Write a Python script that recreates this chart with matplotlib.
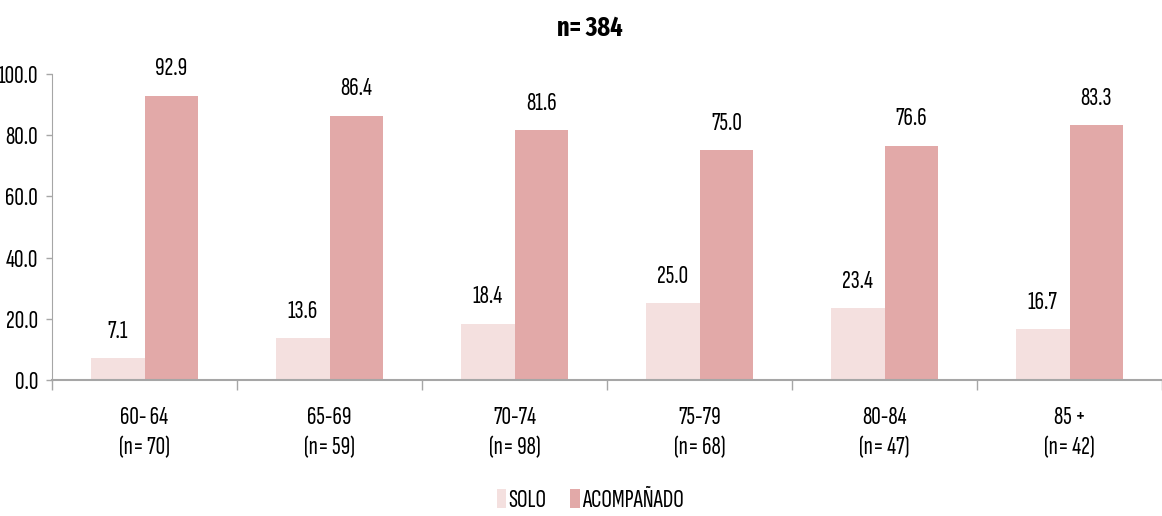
import matplotlib
matplotlib.use("Agg")
import matplotlib.pyplot as plt
import numpy as np

GRUPOS = ["60- 64\n(n= 70)", "65-69\n(n= 59)", "70-74\n(n= 98)",
          "75-79\n(n= 68)", "80-84\n(n= 47)", "85 +\n(n= 42)"]
SOLO = [7.1, 13.6, 18.4, 25.0, 23.4, 16.7]
ACOMPANADO = [92.9, 86.4, 81.6, 75.0, 76.6, 83.3]
SERIES = ["SOLO", "ACOMPAÑADO"]
TITULO = "n= 384"

plt.rcParams["font.family"] = ["Sofia Sans Extra Condensed", "Fira Sans Extra Condensed",
                               "Liberation Sans", "DejaVu Sans"]

C_SOLO = "#f4e0df"
C_ACOMP = "#e2a9a8"
GRIS = "#a6a6a6"
FS = 19

fig = plt.figure(figsize=(11.62, 5.16), dpi=100)
ax = fig.add_axes([0.0448, 0.2636, 0.9552, 0.593])

x = np.arange(len(GRUPOS))
w = 0.29
b1 = ax.bar(x - w / 2, SOLO, w, color=C_SOLO, label=SERIES[0])
b2 = ax.bar(x + w / 2, ACOMPANADO, w, color=C_ACOMP, label=SERIES[1])

for bars, vals in ((b1, SOLO), (b2, ACOMPANADO)):
    for r, v in zip(bars, vals):
        ax.annotate(f"{v:.1f}", (r.get_x() + r.get_width() / 2, v),
                    xytext=(0, 11), textcoords="offset points",
                    ha="center", va="bottom", fontsize=FS)

ax.set_xlim(-0.5, len(GRUPOS) - 0.5)
ax.set_ylim(0, 100)
ax.set_yticks(np.arange(0, 101, 20))
ax.set_yticklabels([f"{t:.1f}" for t in np.arange(0, 101, 20)], fontsize=FS)
ax.set_xticks(x)
ax.set_xticklabels(GRUPOS, fontsize=FS, linespacing=1.4)
ax.set_xticks(np.arange(-0.5, len(GRUPOS) - 0.4, 1), minor=True)
ax.tick_params(axis="x", which="major", length=0, pad=19)
ax.tick_params(axis="x", which="minor", length=7, color=GRIS, width=1)
ax.tick_params(axis="y", length=4, color=GRIS, width=1, pad=6)

for s in ("top", "right"):
    ax.spines[s].set_visible(False)
ax.spines["left"].set_color(GRIS)
ax.spines["bottom"].set_color(GRIS)
ax.spines["bottom"].set_linewidth(1.5)

fig.text(0.508, 0.945, TITULO, ha="center", va="center",
         fontsize=FS, fontweight="bold",
         family=["Fira Sans Extra Condensed", "DejaVu Sans"])

fig.legend(handles=[b1, b2], loc="center", bbox_to_anchor=(0.508, 0.03),
           ncol=2, frameon=False, fontsize=FS, handlelength=0.35,
           handleheight=0.75, handletextpad=0.1, columnspacing=0.9)

fig.savefig("out.png", dpi=100)
